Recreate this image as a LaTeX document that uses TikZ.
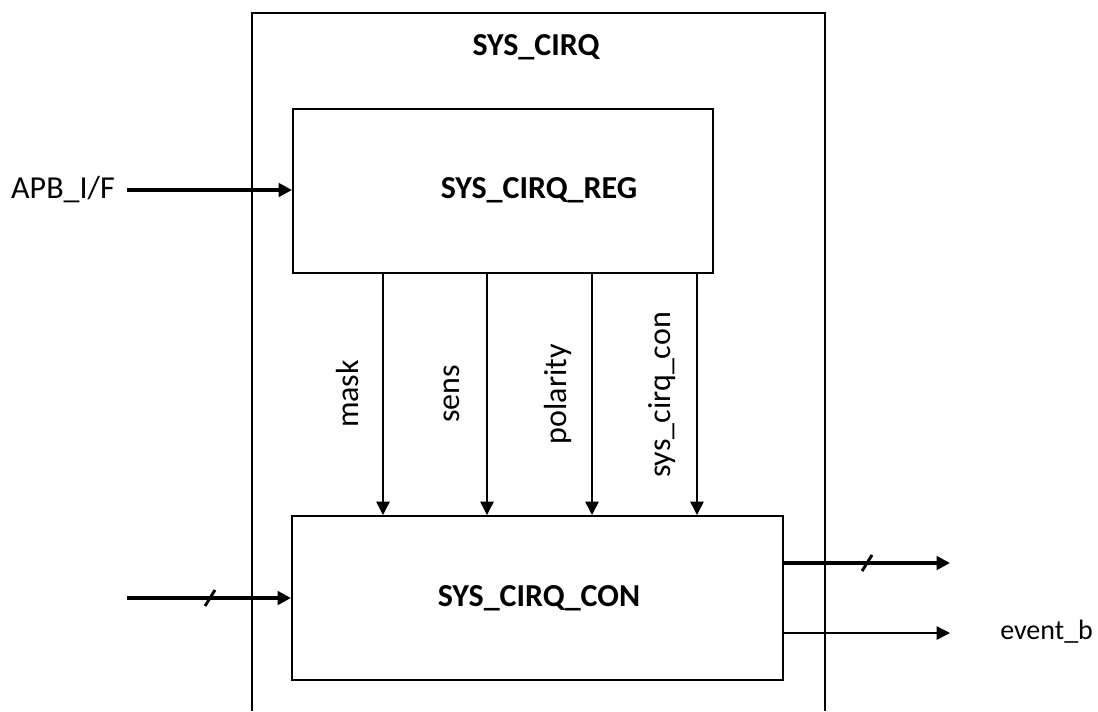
\documentclass[tikz,border=0pt]{standalone}
\usepackage{fontspec}
\setmainfont{Carlito}
\usetikzlibrary{arrows.meta}
\begin{document}
\begin{tikzpicture}[x=0.75pt,y=-0.75pt,
  blk/.style={draw, line width=1.5pt, inner sep=0pt, minimum height=123pt},
  txt/.style={font=\fontsize{24}{28}\selectfont, inner sep=0pt},
  stxt/.style={font=\fontsize{21}{25}\selectfont, inner sep=0pt},
  btxt/.style={font=\fontsize{24}{28}\selectfont\bfseries, inner sep=0pt},
  thin/.style={line width=1.1pt, -{Triangle[length=10pt,width=10pt]}},
  thick/.style={line width=3pt, -{Triangle[length=10pt,width=10pt]}},
  slash/.style={line width=2.2pt}]
\useasboundingbox (0,0) rectangle (1098,711);
% outer block (open at bottom)
\coordinate (obl) at (252,711);
\coordinate (otl) at (252,13);
\coordinate (otr) at (825,13);
\coordinate (obr) at (825,711);
\draw[line width=1.5pt] (obl) -- (otl) -- (otr) -- (obr);
\node[btxt] (title) at (536,47) {SYS\_CIRQ};
% inner blocks
\node[blk, minimum width=315pt] (reg) at (503,191) {};
\node[btxt] (regl) at (539,190) {SYS\_CIRQ\_REG};
\node[blk, minimum width=368.25pt] (con) at (537.5,598) {};
\node[btxt] (conl) at (539,598) {SYS\_CIRQ\_CON};
% vertical signals
\coordinate (m1) at (383,400);
\coordinate (m2) at (487,400);
\coordinate (m3) at (592,400);
\coordinate (m4) at (697,400);
\foreach \c in {m1,m2,m3,m4}
  \draw[thin] (reg.south -| \c) -- (con.north -| \c);
\node[txt, rotate=90] (lmask) at (348,394) {mask};
\node[txt, rotate=90] (lsens) at (452,394) {sens};
\node[txt, rotate=90] (lpol) at (558,394) {polarity};
\node[txt, rotate=90] (lsys) at (662,395) {sys\_cirq\_con};
% APB input
\node[txt, anchor=east] (apb) at (115,190) {APB\_I/F};
\coordinate (apbs) at (127,190);
\draw[thick] (apbs) -- (reg.west |- apbs);
% bus input to CON
\coordinate (ins) at (127,598);
\draw[thick] (ins) -- (con.west |- ins);
\coordinate (sl1) at (210,598);
\draw[slash] ([shift={(-5,8)}]sl1) -- ([shift={(5,-8)}]sl1);
% outputs
\coordinate (o1) at (950,563);
\draw[thick] (con.east |- o1) -- (o1);
\coordinate (sl2) at (867,563);
\draw[slash] ([shift={(-5,8)}]sl2) -- ([shift={(5,-8)}]sl2);
\coordinate (o2) at (950,633);
\draw[thin] (con.east |- o2) -- (o2);
\node[stxt, anchor=west] (evb) at (1000,632) {event\_b};
\end{tikzpicture}
\end{document}
